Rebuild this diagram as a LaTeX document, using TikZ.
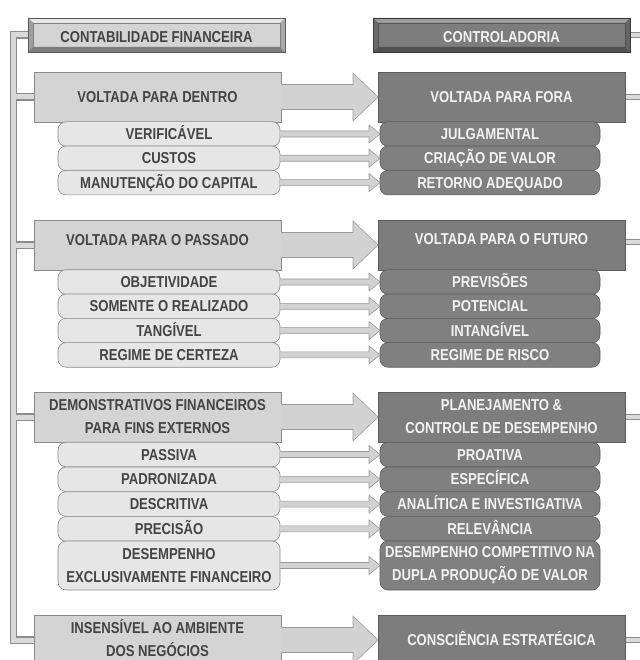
\documentclass[tikz,border=0pt]{standalone}
\usepackage{fontspec}
\setmainfont[FakeStretch=0.83]{Liberation Sans}
\usetikzlibrary{calc,backgrounds}
\definecolor{lface}{HTML}{D4D4D4}
\definecolor{lsubc}{HTML}{E6E6E6}
\definecolor{lline}{HTML}{8A8A8A}
\definecolor{ltext}{HTML}{444444}
\definecolor{rface}{HTML}{7D7D7D}
\definecolor{rsubc}{HTML}{808080}
\definecolor{rline}{HTML}{5C5C5C}
\definecolor{rtext}{HTML}{F2F2F2}
\definecolor{arrfill}{HTML}{D2D2D2}
\definecolor{arrline}{HTML}{9A9A9A}
\definecolor{pipeout}{HTML}{8C8C8C}
\definecolor{pipein}{HTML}{DADADA}
\newcommand\mainf{\fontsize{15.8}{23}\selectfont\bfseries}
\newcommand\bevelbox[5]{%
 \fill[#2] (#1.north west) -- (#1.north east) -- ($(#1.north east)+(-5,5)$) -- ($(#1.north west)+(5,5)$) -- cycle;
 \fill[#3] (#1.north west) -- ($(#1.north west)+(5,5)$) -- ($(#1.south west)+(5,-5)$) -- (#1.south west) -- cycle;
 \fill[#4] (#1.south west) -- ($(#1.south west)+(5,-5)$) -- ($(#1.south east)+(-5,-5)$) -- (#1.south east) -- cycle;
 \fill[#5] (#1.north east) -- (#1.south east) -- ($(#1.south east)+(-5,-5)$) -- ($(#1.north east)+(-5,5)$) -- cycle;
 \draw[#4, line width=0.5pt] ($(#1.north west)+(5,5)$) rectangle ($(#1.south east)+(-5,-5)$);
 \draw[#4!70!black, line width=0.7pt] (#1.north west) rectangle (#1.south east);
}
\newcommand\bigarr[2]{%
 \filldraw[fill=arrfill, draw=arrline, line width=0.6pt]
  ($(#1.east)+(0,-12.5)$) -- ($(#2.west)+(-25,-12.5)$) -- ($(#2.west)+(-25,-24)$) -- (#2.west)
  -- ($(#2.west)+(-25,24)$) -- ($(#2.west)+(-25,12.5)$) -- ($(#1.east)+(0,12.5)$);
}
\newcommand\smallarr[2]{%
 \filldraw[fill=arrfill, draw=arrline, line width=0.6pt]
  ($(#1.east)+(0,-3)$) -- ($(#2.west)+(-11,-3)$) -- ($(#2.west)+(-11,-9)$) -- (#2.west)
  -- ($(#2.west)+(-11,9)$) -- ($(#2.west)+(-11,3)$) -- ($(#1.east)+(0,3)$);
}
\begin{document}
\begin{tikzpicture}[x=1pt,y=-1pt,
  every node/.style={outer sep=0pt, inner sep=0pt, align=center, font=\mainf},
  oneline/.style={text height=11.2pt, text depth=0pt},
  lhead/.style={fill=lface, text=ltext, minimum width=257pt, minimum height=34pt},
  rhead/.style={fill=rface, text=rtext, minimum width=257pt, minimum height=34pt},
  lmain/.style={draw=lline, line width=0.6pt, fill=lface, text=ltext, minimum width=247pt, minimum height=50pt},
  rmain/.style={draw=rline, line width=0.6pt, fill=rface, text=rtext, minimum width=247pt, minimum height=50pt},
  lsub/.style={draw=lline, line width=0.6pt, fill=lsubc, text=ltext, rounded corners=8pt, minimum width=222pt, minimum height=24.6pt},
  rsub/.style={draw=rline, line width=0.6pt, fill=rsubc, text=rtext, rounded corners=8pt, minimum width=220pt, minimum height=24.6pt},
  pipeo/.style={draw=pipeout, line width=7.5pt},
  pipei/.style={draw=pipein, line width=5pt},
  rpipeo/.style={draw=pipeout, line width=6pt},
  rpipei/.style={draw=pipein, line width=3.6pt}]
\useasboundingbox (0,0) rectangle (639,660);
% headers
\node[lhead, oneline] (h1) at (156.5,35) {\raisebox{-2pt}{CONTABILIDADE FINANCEIRA}};
\bevelbox{h1}{lface!55!white}{lface!75!black}{lface!60!black}{lface!80!black}
\node[rhead, oneline] (h2) at (501.5,35) {\raisebox{-2pt}{CONTROLADORIA}};
\bevelbox{h2}{rface!75!white}{rface!85!black}{rface!65!black}{rface!80!black}
% section 1
\node[lmain, oneline] (l1) at (157.5,97) {VOLTADA PARA DENTRO};
\node[rmain, oneline] (r1) at (501.5,97) {VOLTADA PARA FORA};
\node[lsub, oneline] (a1) at (169,134) {VERIFICÁVEL};
\node[lsub, oneline] (a2) at (169,158.3) {CUSTOS};
\node[lsub, oneline] (a3) at (169,182.6) {MANUTENÇÃO DO CAPITAL};
\node[rsub, oneline] (b1) at (490,134) {JULGAMENTAL};
\node[rsub, oneline] (b2) at (490,158.3) {CRIAÇÃO DE VALOR};
\node[rsub, oneline] (b3) at (490,182.6) {RETORNO ADEQUADO};
% section 2
\node[lmain, oneline] (l2) at (157.5,245) {\raisebox{5pt}{VOLTADA PARA O PASSADO}};
\node[rmain, oneline] (r2) at (501.5,245) {\raisebox{6pt}{VOLTADA PARA O FUTURO}};
\node[lsub, oneline] (a4) at (169,282) {OBJETIVIDADE};
\node[lsub, oneline] (a5) at (169,306.3) {SOMENTE O REALIZADO};
\node[lsub, oneline] (a6) at (169,330.6) {TANGÍVEL};
\node[lsub, oneline] (a7) at (169,354.9) {REGIME DE CERTEZA};
\node[rsub, oneline] (b4) at (490,282) {PREVISÕES};
\node[rsub, oneline] (b5) at (490,306.3) {POTENCIAL};
\node[rsub, oneline] (b6) at (490,330.6) {INTANGÍVEL};
\node[rsub, oneline] (b7) at (490,354.9) {REGIME DE RISCO};
% section 3
\node[lmain] (l3) at (157.5,417) {DEMONSTRATIVOS FINANCEIROS\\PARA FINS EXTERNOS};
\node[rmain] (r3) at (501.5,417) {PLANEJAMENTO \&\\CONTROLE DE DESEMPENHO};
\node[lsub, oneline] (a8) at (169,454.5) {PASSIVA};
\node[lsub, oneline] (a9) at (169,479.3) {PADRONIZADA};
\node[lsub, oneline] (a10) at (169,504.1) {DESCRITIVA};
\node[lsub, oneline] (a11) at (169,528.9) {PRECISÃO};
\node[lsub, minimum height=49pt] (a12) at (169,565.5) {DESEMPENHO\\EXCLUSIVAMENTE FINANCEIRO};
\node[rsub, oneline] (b8) at (490,454.5) {PROATIVA};
\node[rsub, oneline] (b9) at (490,479.3) {ESPECÍFICA};
\node[rsub, oneline] (b10) at (490,504.1) {ANALÍTICA E INVESTIGATIVA};
\node[rsub, oneline] (b11) at (490,528.9) {RELEVÂNCIA};
\node[rsub, minimum height=49pt] (b12) at (490,565.5) {DESEMPENHO COMPETITIVO NA\\DUPLA PRODUÇÃO DE VALOR};
% section 4
\node[lmain] (l4) at (157.5,640) {\raisebox{2pt}{\begin{tabular}{@{}c@{}}INSENSÍVEL AO AMBIENTE\\DOS NEGÓCIOS\end{tabular}}};
\node[rmain, oneline] (r4) at (501.5,640) {CONSCIÊNCIA ESTRATÉGICA};
% arrows
\bigarr{l1}{r1}
\bigarr{l2}{r2}
\bigarr{l3}{r3}
\bigarr{l4}{r4}
\foreach \i in {1,...,12} {\smallarr{a\i}{b\i}}
% pipes
\coordinate (bus) at (13.5,0);
\coordinate (edge) at (645,0);
\begin{pgfonlayer}{background}
 \fill[white] (0,0) rectangle (639,660);
 \foreach \s in {pipeo,pipei} {
  \draw[\s] (h1.west) -- (bus |- h1.west) -- (bus |- l4.west) -- (l4.west);
  \draw[\s] (bus |- l1.west) -- (l1.west);
  \draw[\s] (bus |- l2.west) -- (l2.west);
  \draw[\s] (bus |- l3.west) -- (l3.west);
 }
 \foreach \s in {rpipeo,rpipei} {
  \draw[\s] (h2.east) -- (edge |- h2.east);
  \draw[\s] (r1.east) -- (edge |- r1.east);
  \draw[\s] ($(r2.east)+(0,-3)$) -- ($(edge |- r2.east)+(0,-3)$);
  \draw[\s] (r3.east) -- (edge |- r3.east);
  \draw[\s] (r4.east) -- (edge |- r4.east);
 }
\end{pgfonlayer}
\end{tikzpicture}
\end{document}
